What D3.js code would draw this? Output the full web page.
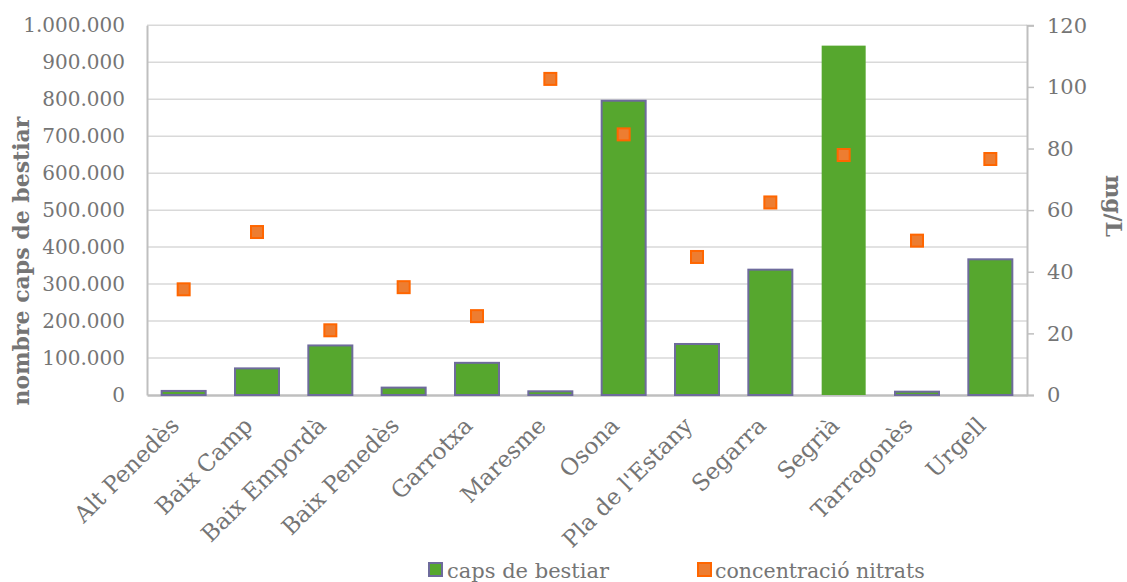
<!DOCTYPE html>
<html><head><meta charset="utf-8">
<script src="https://cdn.jsdelivr.net/npm/d3@7"></script>
<style>
body{margin:0;background:#fff;}
text{font-family:"DejaVu Serif",serif;fill:#757575;}
</style></head>
<body><svg id="chart" width="1127" height="582"></svg>
<script>
const categories = ["Alt Penedès","Baix Camp","Baix Empordà","Baix Penedès","Garrotxa","Maresme","Osona","Pla de l'Estany","Segarra","Segrià","Tarragonès","Urgell"];
const capsBestiar = [11000,72000,134000,20000,87000,10000,796000,138000,339000,945000,9000,367000];
const nitrats = [34.3,52.9,21.0,35.0,25.6,102.6,84.6,44.8,62.5,77.9,50.1,76.6];
const leftTicks = [0,100000,200000,300000,400000,500000,600000,700000,800000,900000,1000000];
const rightTicks = [0,20,40,60,80,100,120];
const noOutline = ["Segrià"];

const svg = d3.select("#chart");
const L = 147, R = 1027, T = 25.3, B = 395;
const x = d3.scaleBand().domain(categories).range([L,R]).paddingInner(0.4).paddingOuter(0.2);
const yL = d3.scaleLinear().domain([0,1000000]).range([B,T]);
const yR = d3.scaleLinear().domain([0,120]).range([B,T]);
const fmt = v => d3.format(",")(v).replace(/,/g,".");

// gridlines
svg.append("g").selectAll("line").data(leftTicks.filter(d=>d>0)).join("line")
  .attr("x1",L).attr("x2",R).attr("y1",d=>yL(d)).attr("y2",d=>yL(d))
  .attr("stroke","#d9d9d9").attr("stroke-width",1.5);

// left axis
const gL = svg.append("g").attr("transform",`translate(${L},0)`)
  .call(d3.axisLeft(yL).tickValues(leftTicks).tickFormat(fmt).tickSize(0).tickPadding(22));
gL.select(".domain").attr("stroke","#bfbfbf").attr("stroke-width",2);
gL.selectAll("text").style("font-size","20px").attr("fill","#757575").style("font-family","DejaVu Serif");

// right axis
const gR = svg.append("g").attr("transform",`translate(${R},0)`)
  .call(d3.axisRight(yR).tickValues(rightTicks).tickSize(7).tickPadding(13));
gR.select(".domain").attr("stroke","#bfbfbf").attr("stroke-width",2);
gR.selectAll(".tick line").attr("stroke","#bfbfbf").attr("stroke-width",1.5);
gR.selectAll("text").style("font-size","21px").attr("fill","#757575").style("font-family","DejaVu Serif");

// bottom axis
const gB = svg.append("g").attr("transform",`translate(0,${B})`)
  .call(d3.axisBottom(x).tickSize(0).tickPadding(0));
gB.select(".domain").attr("stroke","#bfbfbf").attr("stroke-width",2.5);
gB.selectAll("text").style("font-size","23px").attr("fill","#757575").style("font-family","DejaVu Serif")
  .attr("text-anchor","end").attr("dy",0).attr("y",0)
  .attr("transform","translate(-3,32) rotate(-45)");

// bars
svg.append("g").selectAll("rect").data(categories).join("rect")
  .attr("x",d=>x(d)).attr("width",x.bandwidth())
  .attr("y",(d,i)=>yL(capsBestiar[i])).attr("height",(d,i)=>B-yL(capsBestiar[i]))
  .attr("fill","#56a72e")
  .attr("stroke",d=>noOutline.includes(d)?"none":"#6e6b9c").attr("stroke-width",2);

// markers
const ms = 12;
svg.append("g").selectAll("rect").data(categories).join("rect")
  .attr("x",d=>x(d)+x.bandwidth()/2-ms/2).attr("y",(d,i)=>yR(nitrats[i])-ms/2)
  .attr("width",ms).attr("height",ms)
  .attr("fill","#ed7d31").attr("stroke","#ff6600").attr("stroke-width",2);

// axis titles
svg.append("text").attr("transform","translate(29,261) rotate(-90)")
  .attr("text-anchor","middle").style("font-size","22px").style("font-weight","bold").text("nombre caps de bestiar");
svg.append("text").attr("transform","translate(1106,206) rotate(90)")
  .attr("text-anchor","middle").style("font-size","22px").style("font-weight","bold").text("mg/L");

// legend
const lg = svg.append("g");
lg.append("rect").attr("x",429).attr("y",563).attr("width",13).attr("height",13)
  .attr("fill","#56a72e").attr("stroke","#6e6b9c").attr("stroke-width",2);
lg.append("text").attr("x",447).attr("y",578).style("font-size","21px").text("caps de bestiar");
lg.append("rect").attr("x",698).attr("y",563).attr("width",13).attr("height",13)
  .attr("fill","#ed7d31").attr("stroke","#ff6600").attr("stroke-width",2);
lg.append("text").attr("x",715).attr("y",578).style("font-size","20.5px").text("concentració nitrats");
</script></body></html>
